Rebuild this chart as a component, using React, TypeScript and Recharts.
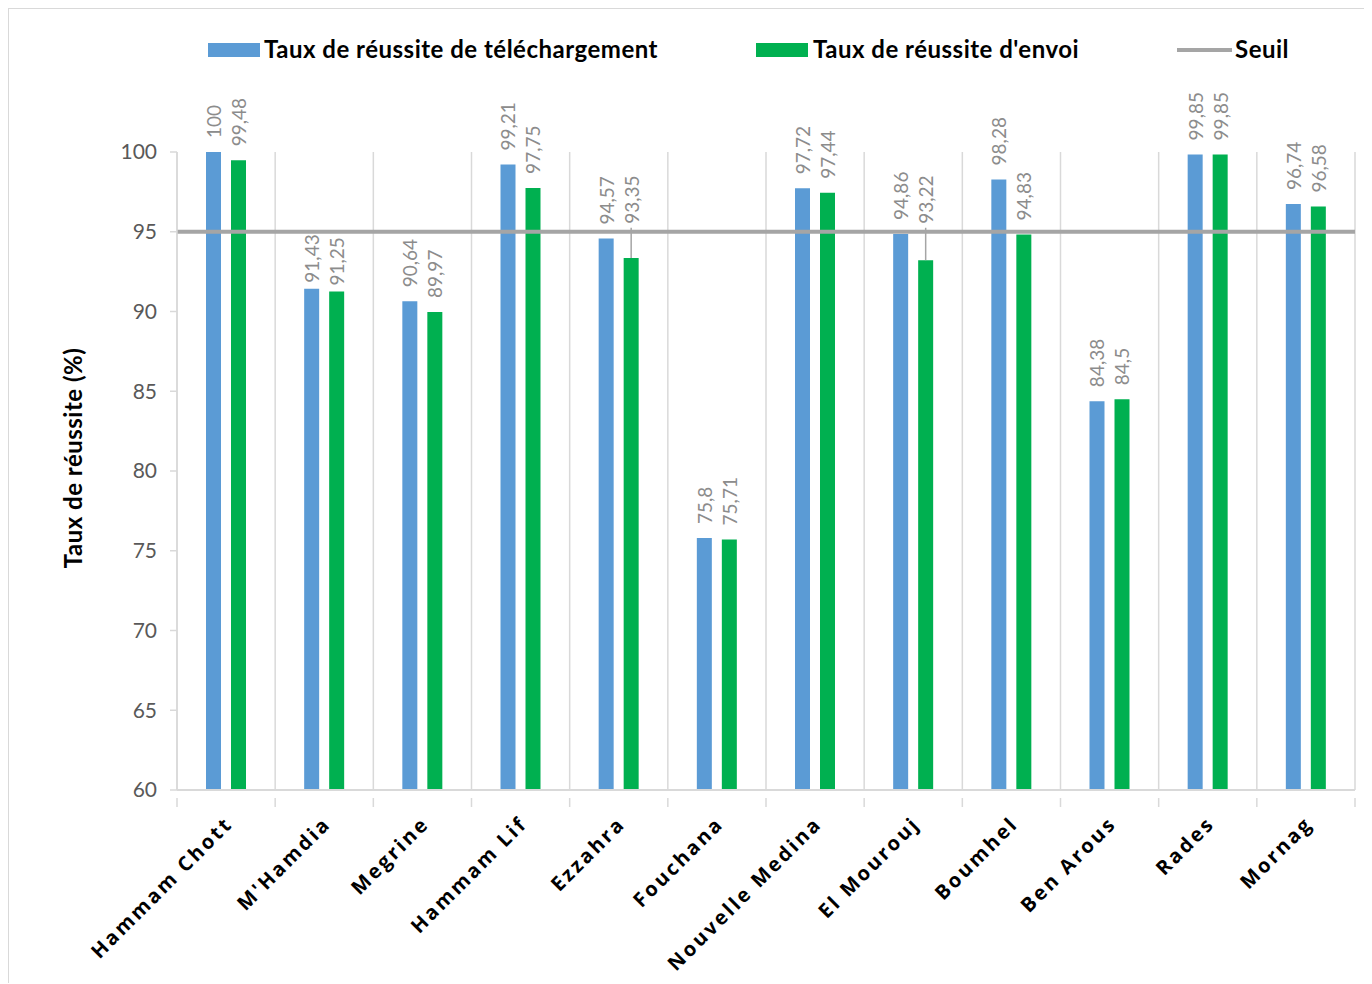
import React from 'react';
import {
  ComposedChart,
  Bar,
  XAxis,
  YAxis,
  CartesianGrid,
  ReferenceLine,
  LabelList,
  Label,
} from 'recharts';

const categories = [
  'Hammam Chott',
  "M'Hamdia",
  'Megrine',
  'Hammam Lif',
  'Ezzahra',
  'Fouchana',
  'Nouvelle Medina',
  'El Mourouj',
  'Boumhel',
  'Ben Arous',
  'Rades',
  'Mornag',
];
const telechargement = [100, 91.43, 90.64, 99.21, 94.57, 75.8, 97.72, 94.86, 98.28, 84.38, 99.85, 96.74];
const envoi = [99.48, 91.25, 89.97, 97.75, 93.35, 75.71, 97.44, 93.22, 94.83, 84.5, 99.85, 96.58];
const seuil = 95;
const yTicks = [60, 65, 70, 75, 80, 85, 90, 95, 100];

const W = 1362;
const H = 974;
const MARGIN = { top: 143, right: 16, bottom: 0, left: 40 };
const PLOT_W = W - 168 - MARGIN.right;
const STEP = PLOT_W / categories.length;

const BLUE = '#5b9bd5';
const GREEN = '#00b050';
const GREY = '#a5a5a5';
const GRID = '#d9d9d9';
const FONT = 'Lato, "Open Sans", sans-serif';

const data = categories.map((name, i) => ({
  name,
  telechargement: telechargement[i],
  envoi: envoi[i],
}));

const fmt = (v: number) => String(v).replace('.', ',');

function BarLabel(props: any) {
  const { x, y, width, height, value } = props;
  const v = Number(value);
  const cx = x + width / 2;
  const text = fmt(v);
  const len = text.replace(',', '').length * 11 + (text.includes(',') ? 3.8 : 0);
  // threshold position, taken from this bar's own scale
  const perUnit = height / (v - 60);
  const lineY = y + (v - seuil) * perUnit;
  let b = y - 14;
  let leader = false;
  const top = b - len;
  if (top < lineY + 4 && b > lineY - 4) {
    const b2 = y - 6;
    if (b2 - len > lineY + 3) {
      b = b2;
    } else {
      b = lineY - 8;
      leader = y - b > 20;
    }
  }
  return (
    <g>
      {leader && <line x1={cx} x2={cx} y1={lineY - 4} y2={y} stroke={GREY} strokeWidth={1.5} />}
      <text
        x={cx}
        y={b}
        transform={`rotate(-90 ${cx} ${b})`}
        textAnchor="start"
        dominantBaseline="central"
        fill="#8c8c8c"
        fontFamily={FONT}
        fontSize={19}
      >
        {text}
      </text>
    </g>
  );
}

function XTick(props: any) {
  const { x, y, payload, index } = props;
  const last = index === categories.length - 1;
  return (
    <g transform={`translate(${x},${y})`}>
      <line x1={-STEP / 2} x2={-STEP / 2} y1={0} y2={9} stroke={GRID} strokeWidth={1.5} />
      {last && <line x1={STEP / 2} x2={STEP / 2} y1={0} y2={9} stroke={GRID} strokeWidth={1.5} />}
      <text
        x={0}
        y={0}
        transform="translate(8,27) rotate(-45)"
        textAnchor="end"
        fill="#000"
        fontFamily='"Open Sans", sans-serif'
        fontWeight={700}
        fontSize={20}
        letterSpacing={2.6}
      >
        {payload.value}
      </text>
    </g>
  );
}

function LegendBox() {
  const txt: React.CSSProperties = {
    position: 'absolute',
    top: 25,
    fontFamily: FONT,
    fontWeight: 700,
    fontSize: 24,
    letterSpacing: 0.5,
    color: '#000',
    whiteSpace: 'nowrap',
    lineHeight: '30px',
  };
  return (
    <div style={{ position: 'absolute', left: 0, top: 0, width: W, height: 70, pointerEvents: 'none' }}>
      <div style={{ position: 'absolute', left: 199, top: 34, width: 52, height: 14, background: BLUE }} />
      <div style={{ ...txt, left: 255 }}>Taux de réussite de téléchargement</div>
      <div style={{ position: 'absolute', left: 747, top: 34, width: 52, height: 14, background: GREEN }} />
      <div style={{ ...txt, left: 804 }}>Taux de réussite d'envoi</div>
      <div style={{ position: 'absolute', left: 1168, top: 39, width: 55, height: 4, background: GREY }} />
      <div style={{ ...txt, left: 1226 }}>Seuil</div>
    </div>
  );
}

export default function App() {
  return (
    <div
      style={{
        position: 'relative',
        width: W,
        height: H,
        borderLeft: `1px solid ${GRID}`,
        borderTop: `1px solid ${GRID}`,
        background: '#fff',
      }}
    >
      <ComposedChart width={W} height={H} data={data} margin={MARGIN} barSize={15} barGap={10}>
        <CartesianGrid
          horizontal={false}
          stroke={GRID}
          strokeWidth={1.5}
          verticalCoordinatesGenerator={({ offset }: any) =>
            Array.from({ length: categories.length + 1 }, (_, i) => offset.left + (i * offset.width) / categories.length)
          }
        />
        <XAxis
          dataKey="name"
          interval={0}
          height={H - 781}
          tickLine={false}
          axisLine={{ stroke: GRID, strokeWidth: 2 }}
          tick={<XTick />}
        />
        <YAxis
          domain={[60, 100]}
          ticks={yTicks}
          width={128}
          tickSize={7}
          tickMargin={13}
          tickLine={{ stroke: GRID, strokeWidth: 1.5 }}
          axisLine={{ stroke: GRID, strokeWidth: 1.5 }}
          tick={{ fill: '#595959', fontSize: 21, fontFamily: FONT }}
        >
          <Label
            content={() => (
              <text
                x={63}
                y={449}
                transform="rotate(-90 63 449)"
                textAnchor="middle"
                dominantBaseline="central"
                fontFamily={FONT}
                fontWeight={700}
                fontSize={24}
                letterSpacing={0.5}
                fill="#000"
              >
                Taux de réussite (%)
              </text>
            )}
          />
        </YAxis>
        <Bar dataKey="telechargement" name="Taux de réussite de téléchargement" fill={BLUE} isAnimationActive={false}>
          <LabelList dataKey="telechargement" content={<BarLabel />} />
        </Bar>
        <Bar dataKey="envoi" name="Taux de réussite d'envoi" fill={GREEN} isAnimationActive={false}>
          <LabelList dataKey="envoi" content={<BarLabel />} />
        </Bar>
        <ReferenceLine y={seuil} stroke={GREY} strokeWidth={4} />
      </ComposedChart>
      <LegendBox />
    </div>
  );
}
